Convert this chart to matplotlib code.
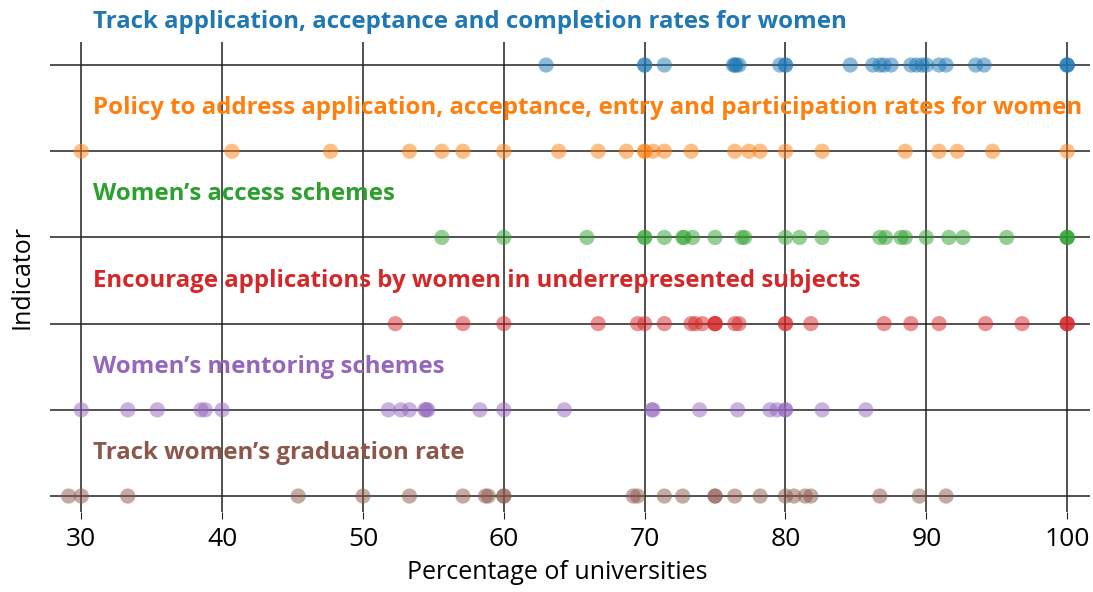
import numpy as np
import matplotlib.pyplot as plt

indicators = [
    "Track application, acceptance and completion rates for women",
    "Policy to address application, acceptance, entry and participation rates for women",
    "Women\u2019s access schemes",
    "Encourage applications by women in underrepresented subjects",
    "Women\u2019s mentoring schemes",
    "Track women\u2019s graduation rate",
]

track_rates = [63.0, 70.0, 70.0, 71.4, 76.3, 76.4, 76.5, 76.7, 79.6, 80.0, 80.0, 84.6,
               86.2, 86.7, 87.0, 87.5, 88.9, 89.3, 89.7, 90.0, 90.9, 91.4, 93.5, 94.1,
               100, 100, 100]
policy_rates = [30.0, 40.7, 47.7, 53.3, 55.6, 57.1, 60.0, 63.9, 66.7, 68.7, 70.0, 70.0,
                70.6, 71.4, 73.3, 76.4, 77.4, 78.2, 80.0, 82.6, 88.5, 90.9, 92.2, 94.7, 100]
access_rates = [55.6, 60.0, 65.9, 70.0, 70.0, 71.4, 72.7, 72.8, 73.4, 75.0, 76.9, 77.1,
                80.0, 81.0, 82.6, 86.7, 87.1, 88.2, 88.5, 90.0, 91.6, 92.6, 95.7, 100, 100, 100]
encourage_rates = [52.3, 57.1, 60.0, 66.7, 69.5, 70.0, 71.4, 73.3, 73.6, 74.1, 75.0, 75.0,
                   75.0, 76.4, 76.7, 80.0, 80.0, 81.8, 87.0, 88.9, 90.9, 94.2, 96.8, 100, 100, 100]
mentoring_rates = [30.0, 33.3, 35.4, 38.5, 38.8, 40.0, 51.8, 52.7, 53.3, 54.4, 54.5, 54.6,
                   58.3, 60.0, 64.3, 70.5, 70.6, 73.9, 76.6, 78.9, 79.4, 80.0, 80.0, 82.6, 85.7]
graduation_rates = [29.1, 30.0, 33.3, 45.4, 50.0, 53.3, 57.1, 58.7, 58.9, 60.0, 60.0,
                    69.2, 69.5, 71.4, 72.7, 75.0, 75.0, 76.4, 78.2, 80.0, 80.6, 81.4, 81.8,
                    86.7, 89.5, 91.4]

all_rates = [track_rates, policy_rates, access_rates, encourage_rates, mentoring_rates,
             graduation_rates]
colors = ["#1f77b4", "#ff7f0e", "#2ca02c", "#d62728", "#9467bd", "#8c564b"]

plt.rcParams['font.family'] = ['Open Sans', 'DejaVu Sans']

fig, ax = plt.subplots(figsize=(10.93, 5.92), dpi=100)
fig.subplots_adjust(left=0.046, right=0.997, top=0.929, bottom=0.135)

for i, (label, rates, c) in enumerate(zip(indicators, all_rates, colors)):
    ax.scatter(rates, np.full(len(rates), i), s=120, color=c, alpha=0.5,
               edgecolors="none", zorder=3)
    ax.text(30.8, i - 0.5, label, color=c, fontsize=17.3, fontweight="bold",
            va="center", ha="left", zorder=4, clip_on=False)

ax.set_ylim(5.186, -0.267)
ax.set_xlim(27.8, 101.6)
ax.set_xticks(np.arange(30, 101, 10))
ax.set_yticks(range(len(indicators)))
ax.set_yticklabels([])
ax.tick_params(axis="y", length=0)
ax.tick_params(axis="x", labelsize=19, length=5, color="#222222", pad=6)
ax.grid(True, color="#222222", linewidth=1.1, zorder=1)
ax.set_axisbelow(True)
for s in ax.spines.values():
    s.set_visible(False)

ax.set_xlabel("Percentage of universities", fontsize=18)
ax.xaxis.set_label_coords(0.4875, -0.103)
ax.set_ylabel("Indicator", fontsize=18, labelpad=8)

plt.savefig("out.png", dpi=100)
